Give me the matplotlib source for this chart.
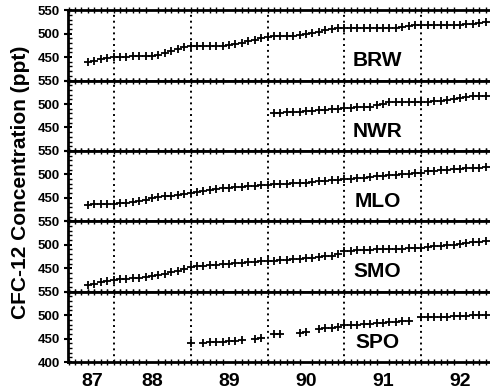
import numpy as np
import matplotlib.pyplot as plt
from matplotlib.ticker import MultipleLocator, FixedLocator

plt.rcParams['font.family'] = ['Liberation Sans', 'DejaVu Sans']
plt.rcParams['font.weight'] = 'bold'

stations = ["BRW", "NWR", "MLO", "SMO", "SPO"]

# monthly means, start year (decimal) for each record
brw_start = 87 + 8 / 12
brw = [440, 442, 445, 447,
       450, 451, 451, 452, 452, 452, 453, 455, 459, 464, 468, 471,
       473, 474, 474, 474, 474, 474, 475, 477, 480, 484, 487, 490,
       493, 494, 495, 495, 496, 497, 499, 501, 504, 507, 510, 511,
       512, 512, 511, 511, 511, 511, 511, 512, 513, 515, 517, 518,
       519, 519, 519, 519, 519, 519, 519, 520, 521, 523, 525]

nwr_start = 90 + 1 / 12
nwr = [480, 481, 482, 483, 484, 485, 486, 487, 488, 489, 490,
       492, 492, 493, 493, 494, 497, 501, 504, 505, 505, 505, 505,
       505, 505, 506, 507, 508, 510, 513, 515, 516, 517, 518]

mlo_start = 87 + 8 / 12
mlo = [435, 436, 436, 437,
       437, 438, 440, 442, 444, 446, 449, 451, 453, 455, 457, 458,
       460, 462, 465, 467, 469, 471, 472, 473, 474, 475, 476, 477,
       478, 479, 479, 480, 481, 481, 482, 483, 485, 486, 487, 488,
       490, 491, 492, 493, 494, 496, 497, 498, 499, 500, 501, 502,
       504, 507, 508, 509, 510, 511, 512, 513, 514, 514, 515]

smo_start = 87 + 8 / 12
smo = [415, 417, 420, 422,
       425, 427, 428, 429, 430, 432, 434, 436, 438, 441, 444, 448,
       452, 454, 455, 456, 457, 458, 460, 461, 462, 463, 464, 465,
       466, 466, 467, 468, 469, 470, 471, 472, 474, 475, 477, 480,
       486, 487, 488, 488, 489, 490, 491, 491, 492, 492, 493, 493,
       494, 496, 497, 498, 499, 500, 501, 503, 505, 506, 507]

nan = np.nan
spo_start = 89.0
spo = [441, nan, 441, 442, 442, 443, 444, 445, 446, nan, 450, 452,
       nan, 459, 460, nan, nan, 463, 464, nan, 471, 472, 473, 474,
       478, 479, 480, 481, 482, 483, 484, 485, 486, 487, 488, nan,
       495, 496, 496, 497, 497, 498, 498, 499, 500, 500, 501]

series = [(brw_start, brw), (nwr_start, nwr), (mlo_start, mlo),
          (smo_start, smo), (spo_start, spo)]

year_lines = [88, 89, 90, 91, 92]
year_label_pos = [87.73, 88.5, 89.5, 90.5, 91.5, 92.5]
year_labels = ["87", "88", "89", "90", "91", "92"]

fig, axes = plt.subplots(5, 1, figsize=(4.9, 3.91), dpi=100, sharex=True)
fig.subplots_adjust(left=0.139, right=1.0, top=0.974, bottom=0.074, hspace=0)

for i, ax in enumerate(axes):
    start, vals = series[i]
    vals = np.array(vals, dtype=float)
    t = start + np.arange(len(vals)) / 12
    ax.plot(t, vals, linestyle='none', marker='+', color='black',
            markersize=5.5, markeredgewidth=1.3)
    for yr in year_lines:
        ax.axvline(yr, color='black', linestyle=(0, (1, 2)), linewidth=1.4)
    ax.set_ylim(400, 550)
    ax.set_xlim(87.41, 92.89)
    ax.text(91.43, 442, stations[i], fontsize=15, fontweight='bold',
            ha='center', va='center')

    for side in ['top', 'bottom', 'left']:
        ax.spines[side].set_linewidth(2)
    ax.spines['right'].set_visible(False)

    ax.yaxis.set_major_locator(FixedLocator([400, 450, 500, 550]))
    ax.yaxis.set_minor_locator(MultipleLocator(10))
    if i < 4:
        ax.set_yticklabels(["", "450", "500", "550"])
    else:
        ax.set_yticklabels(["400", "450", "500", "550"])
    ax.tick_params(axis='y', which='major', direction='inout', length=6,
                   width=1.5, labelsize=9.5, pad=3)
    ax.tick_params(axis='y', which='minor', direction='in', length=3, width=1)

    ax.xaxis.set_minor_locator(MultipleLocator(1 / 12))
    ax.tick_params(axis='x', which='minor', direction='inout', length=4,
                   width=1, top=True, bottom=True)
    ax.tick_params(axis='x', which='major', length=0, labelsize=14, pad=8)

axes[-1].set_xticks(year_label_pos)
axes[-1].set_xticklabels(year_labels)
for lab in axes[-1].get_xticklabels() + [l for a in axes for l in a.get_yticklabels()]:
    lab.set_fontweight('bold')

fig.text(0.042, 0.534, "CFC-12 Concentration (ppt)", rotation=90,
         ha='center', va='center', fontsize=15, fontweight='bold')

fig.savefig("out.png", dpi=100)
